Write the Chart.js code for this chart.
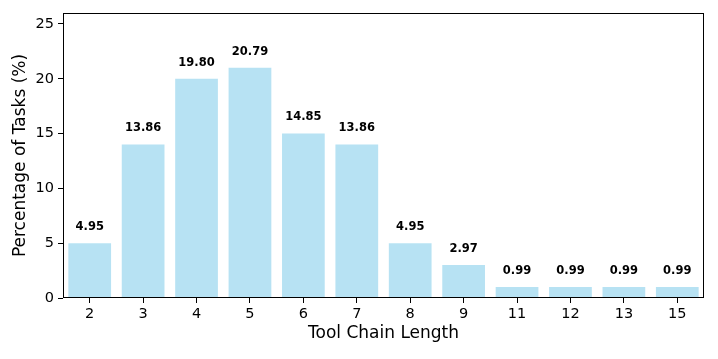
<!DOCTYPE html>
<html>
<head>
<meta charset="utf-8">
<script src="https://cdn.jsdelivr.net/npm/chart.js@4"></script>
<style>
  body { margin: 0; background: #fff; }
  #wrap { width: 718px; height: 359px; }
</style>
</head>
<body>
<div id="wrap"><canvas id="Chart" width="718" height="359"></canvas></div>
<script>
// chain length categories
const chainLengths = ['2', '3', '4', '5', '6', '7', '8', '9', '11', '12', '13', '15'];
// bar heights as drawn in the picture (rounded)
const barHeights = [5, 14, 20, 21, 15, 14, 5, 3, 1, 1, 1, 1];
// printed value labels (percentage of tasks)
const percentages = [4.95, 13.86, 19.80, 20.79, 14.85, 13.86, 4.95, 2.97, 0.99, 0.99, 0.99, 0.99];
const yTicks = [0, 5, 10, 15, 20, 25];

const FONT = 'DejaVu Sans';

// value labels above each bar + frame around plot
const labelPlugin = {
    id: 'labels',
    afterDatasetsDraw(chart) {
        const ctx = chart.ctx;
        const meta = chart.getDatasetMeta(0);
        const yScale = chart.scales.y;
        ctx.save();
        ctx.fillStyle = '#000';
        ctx.font = 'bold 11.5px "' + FONT + '"';
        ctx.textAlign = 'center';
        ctx.textBaseline = 'alphabetic';
        meta.data.forEach((bar, i) => {
            const y = yScale.getPixelForValue(barHeights[i] + 1.2);
            ctx.fillText(percentages[i].toFixed(2), bar.x, y);
        });
        const a = chart.chartArea;
        ctx.strokeStyle = '#000';
        ctx.lineWidth = 1;
        ctx.strokeRect(Math.round(a.left) + 0.5, Math.round(a.top) + 0.5,
            Math.round(a.right - a.left) - 1, Math.round(a.bottom - a.top) - 1);
        ctx.restore();
    }
};

function main() {
    const ctx = document.getElementById('Chart');
    new Chart(ctx, {
        type: 'bar',
        data: {
            labels: chainLengths,
            datasets: [{
                data: barHeights,
                backgroundColor: 'rgba(135, 206, 235, 0.6)',
                borderWidth: 0,
                barPercentage: 0.8,
                categoryPercentage: 1.0
            }]
        },
        options: {
            responsive: false,
            animation: false,
            layout: { padding: { top: 13, right: 14, left: 0, bottom: 0 } },
            plugins: {
                legend: { display: false },
                tooltip: { enabled: false }
            },
            scales: {
                x: {
                    offset: true,
                    grid: { display: true, drawOnChartArea: false, offset: false, tickLength: 5, color: '#000' },
                    border: { display: false },
                    ticks: { color: '#000', font: { family: FONT, size: 14.5 }, padding: 3, maxRotation: 0 },
                    title: { display: true, text: 'Tool Chain Length', color: '#000', font: { family: FONT, size: 17 }, padding: { top: 0, bottom: 15 } },
                    afterFit(scale) { scale.height = 61; }
                },
                y: {
                    min: 0,
                    max: 26,
                    afterBuildTicks(scale) { scale.ticks = yTicks.map(v => ({ value: v })); },
                    grid: { display: true, drawOnChartArea: false, tickLength: 5, color: '#000' },
                    border: { display: false },
                    ticks: { color: '#000', font: { family: FONT, size: 14.5 }, padding: 4 },
                    title: { display: true, text: 'Percentage of Tasks (%)', color: '#000', font: { family: FONT, size: 17 }, padding: { top: 10, bottom: 0 } },
                    afterFit(scale) { scale.width = 63; }
                }
            }
        },
        plugins: [labelPlugin]
    });
}

main();
</script>
</body>
</html>
